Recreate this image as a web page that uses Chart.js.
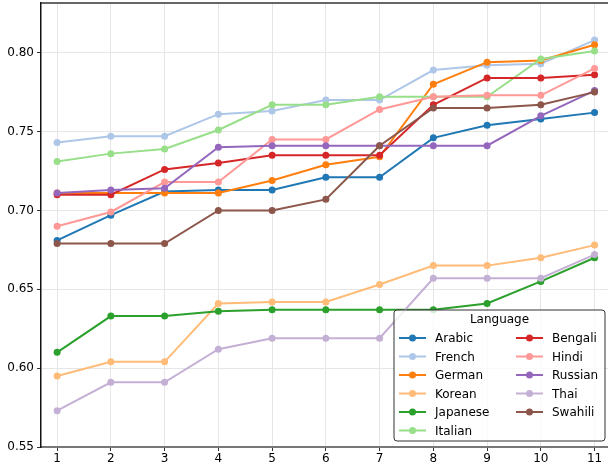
<!DOCTYPE html>
<html>
<head>
<meta charset="utf-8">
<script src="https://cdn.jsdelivr.net/npm/chart.js@4.4.1/dist/chart.umd.min.js"></script>
<style>
  html, body { margin: 0; padding: 0; background: #fff; overflow: hidden; }
  #wrap { width: 608px; height: 470px; position: relative; }
  canvas { display: block; }
</style>
</head>
<body>
<div id="wrap"><canvas id="chart"></canvas></div>
<script>
// x positions (checkpoint index)
const steps = [1, 2, 3, 4, 5, 6, 7, 8, 9, 10, 11];

// legend order = drawing order
const languages = ['Arabic', 'French', 'German', 'Korean', 'Japanese', 'Italian',
                   'Bengali', 'Hindi', 'Russian', 'Thai', 'Swahili'];

const arabic   = [0.681, 0.697, 0.712, 0.713, 0.713, 0.721, 0.721, 0.746, 0.754, 0.758, 0.762];
const french   = [0.743, 0.747, 0.747, 0.761, 0.763, 0.770, 0.770, 0.789, 0.792, 0.793, 0.808];
const german   = [0.711, 0.711, 0.711, 0.711, 0.719, 0.729, 0.734, 0.780, 0.794, 0.795, 0.805];
const korean   = [0.595, 0.604, 0.604, 0.641, 0.642, 0.642, 0.653, 0.665, 0.665, 0.670, 0.678];
const japanese = [0.610, 0.633, 0.633, 0.636, 0.637, 0.637, 0.637, 0.637, 0.641, 0.655, 0.670];
const italian  = [0.731, 0.736, 0.739, 0.751, 0.767, 0.767, 0.772, 0.772, 0.772, 0.796, 0.801];
const bengali  = [0.710, 0.710, 0.726, 0.730, 0.735, 0.735, 0.735, 0.767, 0.784, 0.784, 0.786];
const hindi    = [0.690, 0.699, 0.718, 0.718, 0.745, 0.745, 0.764, 0.772, 0.773, 0.773, 0.790];
const russian  = [0.711, 0.713, 0.714, 0.740, 0.741, 0.741, 0.741, 0.741, 0.741, 0.760, 0.776];
const thai     = [0.573, 0.591, 0.591, 0.612, 0.619, 0.619, 0.619, 0.657, 0.657, 0.657, 0.672];
const swahili  = [0.679, 0.679, 0.679, 0.700, 0.700, 0.707, 0.741, 0.765, 0.765, 0.767, 0.775];

const series = [arabic, french, german, korean, japanese, italian,
                bengali, hindi, russian, thai, swahili];

// tab20 colours
const colors = ['#1f77b4', '#aec7e8', '#ff7f0e', '#ffbb78', '#2ca02c', '#98df8a',
                '#d62728', '#ff9896', '#9467bd', '#c5b0d5', '#8c564b'];

const yTicks = [0.55, 0.60, 0.65, 0.70, 0.75, 0.80];

const FONT = 'DejaVu Sans';

// matplotlib-like legend: two columns, filled top to bottom
const legendBox = {
    id: 'legendBox',
    afterDraw(chart) {
        const ctx = chart.ctx;
        const area = chart.chartArea;
        const w = 211, h = 131;
        const x0 = area.right - 3 - w;
        const y0 = area.bottom - 6 - h;
        const rows = 6;

        ctx.save();
        ctx.beginPath();
        ctx.roundRect(x0, y0, w, h, 3);
        ctx.fillStyle = 'rgba(255,255,255,0.8)';
        ctx.fill();
        ctx.strokeStyle = '#333';
        ctx.lineWidth = 1;
        ctx.stroke();

        ctx.font = `12px "${FONT}"`;
        ctx.fillStyle = '#000';
        ctx.textBaseline = 'middle';
        ctx.textAlign = 'center';
        ctx.fillText('Language', x0 + w / 2, y0 + 10);

        ctx.textAlign = 'left';
        chart.data.datasets.forEach((ds, i) => {
            const col = Math.floor(i / rows);
            const row = i % rows;
            const hx = x0 + 5 + col * 117;
            const hy = y0 + 28 + row * 18.5;
            ctx.strokeStyle = ds.borderColor;
            ctx.lineWidth = 2;
            ctx.beginPath();
            ctx.moveTo(hx, hy);
            ctx.lineTo(hx + 27, hy);
            ctx.stroke();
            ctx.fillStyle = ds.borderColor;
            ctx.beginPath();
            ctx.arc(hx + 13.5, hy, 3.5, 0, Math.PI * 2);
            ctx.fill();
            ctx.fillStyle = '#000';
            ctx.fillText(ds.label, hx + 36, hy + 1);
        });
        ctx.restore();
    }
};

// top spine
const topSpine = {
    id: 'topSpine',
    afterDatasetsDraw(chart) {
        const ctx = chart.ctx;
        const a = chart.chartArea;
        ctx.save();
        ctx.strokeStyle = '#333';
        ctx.lineWidth = 1.5;
        ctx.beginPath();
        ctx.moveTo(a.left, a.top);
        ctx.lineTo(a.right, a.top);
        ctx.stroke();
        ctx.restore();
    }
};

const datasets = languages.map((name, i) => ({
    label: name,
    data: steps.map((s, j) => ({ x: s, y: series[i][j] })),
    borderColor: colors[i],
    backgroundColor: colors[i],
    borderWidth: 2,
    pointRadius: 3.5,
    pointBorderWidth: 0,
    pointHoverRadius: 3.5,
    order: languages.length - i,
    tension: 0
}));

Chart.defaults.font.family = FONT;
Chart.defaults.font.size = 12;
Chart.defaults.color = '#000';

new Chart(document.getElementById('chart'), {
    type: 'line',
    data: { datasets: datasets },
    options: {
        responsive: true,
        maintainAspectRatio: false,
        animation: false,
        layout: { autoPadding: false, padding: { left: 0, top: 3, right: 0, bottom: 0 } },
        plugins: {
            legend: { display: false },
            tooltip: { enabled: false }
        },
        scales: {
            x: {
                type: 'linear',
                min: 0.7,
                max: 11.25,
                afterBuildTicks: (scale) => {
                    scale.ticks = steps.map(v => ({ value: v }));
                },
                afterFit: (scale) => {
                    scale.height = 23;
                    scale.paddingLeft = 0;
                    scale.paddingRight = 0;
                },
                ticks: { padding: 1, callback: (v) => String(v) },
                grid: {
                    color: '#e6e6e6',
                    tickColor: '#333',
                    tickLength: 4,
                    drawTicks: true
                },
                border: { color: '#777', width: 2 }
            },
            y: {
                min: 0.55,
                max: 0.8315,
                afterBuildTicks: (scale) => {
                    scale.ticks = yTicks.map(v => ({ value: v }));
                },
                afterFit: (scale) => {
                    scale.width = 41;
                    scale.paddingTop = 0;
                    scale.paddingBottom = 0;
                },
                ticks: { padding: 3, callback: (v) => Number(v).toFixed(2) },
                grid: {
                    color: '#e6e6e6',
                    tickColor: '#333',
                    tickLength: 4,
                    drawTicks: true
                },
                border: { color: '#111', width: 1.5 }
            }
        }
    },
    plugins: [topSpine, legendBox]
});
</script>
</body>
</html>
